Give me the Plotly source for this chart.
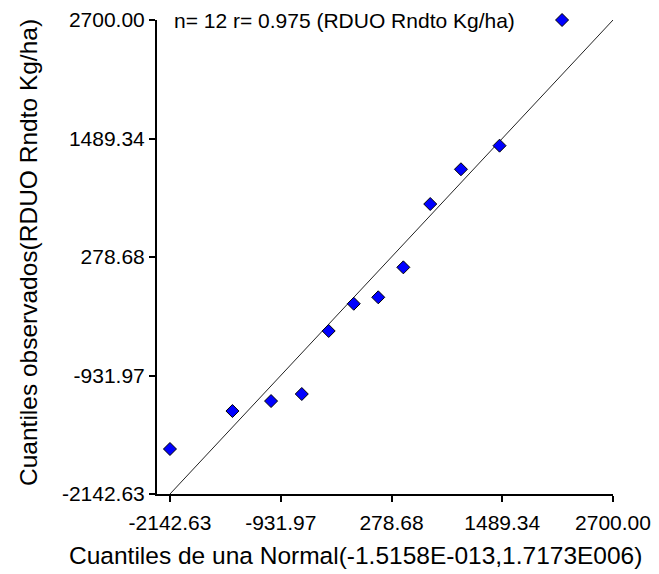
import plotly.graph_objects as go

# Data
normal_quantiles = [-2143, -1460, -1038, -702, -408, -134, 134, 408, 702, 1038, 1460, 2143]
observed_quantiles = [-1683, -1295, -1193, -1121, -477, -199, -133, 173, 820, 1175, 1416, 2700]

tick_vals = [-2142.63, -931.97, 278.68, 1489.34, 2700.00]
tick_text = ["-2142.63", "-931.97", "278.68", "1489.34", "2700.00"]

x_title = "Cuantiles de una Normal(-1.5158E-013,1.7173E006)"
y_title = "Cuantiles observados(RDUO Rndto Kg/ha)"
stats_text = "n= 12 r= 0.975 (RDUO Rndto Kg/ha)"

FONT = "Liberation Sans, Arial, sans-serif"

ref_line = [tick_vals[0], tick_vals[-1]]

fig = go.Figure()
fig.add_trace(go.Scatter(
    x=ref_line, y=ref_line, mode="lines",
    line=dict(color="#222222", width=1),
    hoverinfo="skip", showlegend=False,
))
fig.add_trace(go.Scatter(
    x=normal_quantiles, y=observed_quantiles, mode="markers",
    marker=dict(symbol="diamond", size=10, color="#0000FF",
                line=dict(color="black", width=1)),
    cliponaxis=False, showlegend=False,
))

axis_common = dict(
    showgrid=False, zeroline=False, showline=True, linecolor="black", linewidth=2,
    ticks="outside", ticklen=6, tickwidth=1.5, tickcolor="black",
    tickvals=tick_vals, ticktext=tick_text, automargin=False,
    tickfont=dict(family=FONT, size=21, color="black"),
)

PW, PH = 456, 474  # plot area size in px

fig.update_layout(
    width=659, height=574,
    margin=dict(l=157, r=46, t=20, b=80, autoexpand=False),
    paper_bgcolor="white", plot_bgcolor="white",
    xaxis=dict(range=[-2284.7, 2700.0], ticklabelstandoff=3, **axis_common),
    yaxis=dict(range=[-2142.63, 2700.0], **axis_common),
    annotations=[
        dict(text=stats_text, xref="paper", yref="paper", x=15 / PW, y=1.0,
             xanchor="left", yanchor="middle", showarrow=False,
             font=dict(family=FONT, size=21, color="black")),
        dict(text=x_title, xref="paper", yref="paper", x=(355 - 157) / PW,
             y=-(555 - 494) / PH, xanchor="center", yanchor="middle", showarrow=False,
             font=dict(family=FONT, size=24.5, color="black")),
        dict(text=y_title, xref="paper", yref="paper", x=-(157 - 28) / PW,
             y=(494 - 253) / PH, xanchor="center", yanchor="middle", showarrow=False,
             textangle=-90,
             font=dict(family=FONT, size=24.5, color="black")),
    ],
)

fig.write_html("out.html",
               config={"displayModeBar": False},
               post_script="document.body.style.margin='0';document.body.style.overflow='hidden';")
